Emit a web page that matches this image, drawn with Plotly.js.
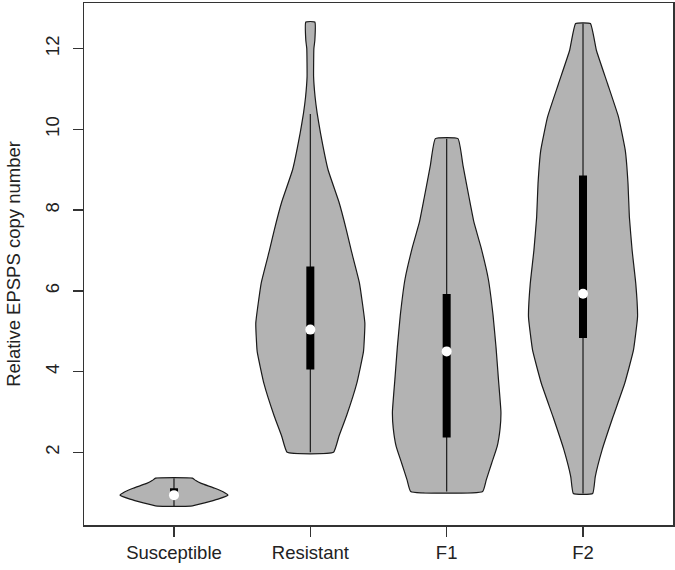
<!DOCTYPE html>
<html><head><meta charset="utf-8">
<script src="https://cdn.plot.ly/plotly-3.0.1.min.js"></script>
<style>html,body{margin:0;padding:0;background:#fff}</style>
</head><body><div id="chart" style="width:675px;height:570px"></div>
<script>
// Categories (x positions 1..4)
const categories = ["Susceptible", "Resistant", "F1", "F2"];

// Violin outlines: y levels and half-widths (density, max 0.4)
const susLevels = [0.67, 0.75, 0.84, 0.94, 1.00, 1.11, 1.23, 1.30, 1.36];
const susHalf   = [0.122, 0.225, 0.323, 0.396, 0.372, 0.30, 0.20, 0.16, 0.135];

const resLevels = [2.0, 2.4, 2.9, 3.7, 4.5, 5.2, 6.2, 7.0, 7.5, 8.2, 9.0, 9.9, 10.4, 10.8, 11.3, 12.0, 12.2, 12.66];
const resHalf   = [0.17, 0.21, 0.265, 0.34, 0.39, 0.40, 0.36, 0.30, 0.265, 0.21, 0.13, 0.075, 0.05, 0.035, 0.024, 0.026, 0.033, 0.033];

const f1Levels = [1.03, 1.31, 1.73, 2.14, 2.6, 3.0, 3.8, 4.6, 5.4, 6.3, 7.1, 7.7, 8.3, 9.1, 9.77];
const f1Half   = [0.264, 0.29, 0.33, 0.37, 0.392, 0.398, 0.38, 0.362, 0.34, 0.305, 0.25, 0.2, 0.165, 0.12, 0.083];

const f2Levels = [0.98, 1.40, 2.06, 2.88, 3.71, 4.53, 5.36, 6.18, 7.01, 7.83, 8.66, 9.48, 10.31, 11.13, 11.96, 12.62];
const f2Half   = [0.071, 0.09, 0.14, 0.22, 0.306, 0.37, 0.40, 0.387, 0.36, 0.34, 0.33, 0.31, 0.26, 0.18, 0.098, 0.054];

// Box-plot summaries
const whiskerLow  = [0.67, 2.0, 1.03, 0.98];
const whiskerHigh = [1.36, 10.38, 9.77, 12.62];
const q1      = [0.92, 4.05, 2.37, 4.83];
const q3      = [1.11, 6.60, 5.92, 8.86];
const medians = [0.94, 5.04, 4.50, 5.93];

// Axis ticks
const yTicks = [2, 4, 6, 8, 10, 12];
const yTickLabels = ["2", "4", "6", "8", "10", "12"];

const levelsList = [susLevels, resLevels, f1Levels, f2Levels];
const halfList = [susHalf, resHalf, f1Half, f2Half];
const pos = categories.map((c, i) => i + 1);

const traces = [];
levelsList.forEach((lv, i) => {
  const at = pos[i];
  const hw = halfList[i];
  const xs = [], ys = [];
  for (let k = 0; k < lv.length; k++) { xs.push(at - hw[k]); ys.push(lv[k]); }
  for (let k = lv.length - 1; k >= 0; k--) { xs.push(at + hw[k]); ys.push(lv[k]); }
  xs.push(xs[0]); ys.push(ys[0]);
  traces.push({
    type: "scatter", mode: "lines", x: xs, y: ys, fill: "toself",
    fillcolor: "#b3b3b3", line: {color: "#1a1a1a", width: 1.2, shape: "spline", smoothing: 0.35},
    hoverinfo: "skip", name: categories[i]
  });
});

// whisker lines
const wx = [], wy = [];
pos.forEach((p, i) => { wx.push(p, p, null); wy.push(whiskerLow[i], whiskerHigh[i], null); });
traces.push({type: "scatter", mode: "lines", x: wx, y: wy, line: {color: "#1a1a1a", width: 1.2}, hoverinfo: "skip"});

// boxes (thick line from q1 to q3)
const bx = [], by = [];
pos.forEach((p, i) => { bx.push(p, p, null); by.push(q1[i], q3[i], null); });
traces.push({type: "scatter", mode: "lines", x: bx, y: by, line: {color: "#000", width: 8}, hoverinfo: "skip"});

// medians
traces.push({
  type: "scatter", mode: "markers", x: pos, y: medians,
  marker: {color: "#fff", size: 10, line: {width: 0}}, hoverinfo: "skip"
});

const font = {family: "Liberation Sans, Arial, sans-serif", size: 18.5, color: "#222"};

const layout = {
  width: 675, height: 570,
  margin: {l: 84, r: 2, t: 3, b: 45},
  showlegend: false,
  paper_bgcolor: "#fff", plot_bgcolor: "#fff",
  font: font,
  xaxis: {
    range: [0.34, 4.66], tickmode: "array", tickvals: pos, ticktext: categories,
    ticks: "outside", ticklen: 10, tickwidth: 1.3, tickcolor: "#333",
    showline: true, mirror: true, linecolor: "#333", linewidth: 1.5,
    showgrid: false, zeroline: false, tickfont: font, fixedrange: true
  },
  yaxis: {
    range: [0.2, 13.13], tickmode: "array", tickvals: yTicks, ticktext: yTickLabels,
    ticks: "outside", ticklen: 10, tickwidth: 1.3, tickcolor: "#333", tickangle: -90,
    ticklabelstandoff: 6,
    showline: true, mirror: true, linecolor: "#333", linewidth: 1.5,
    showgrid: false, zeroline: false, tickfont: font, fixedrange: true,
    title: {text: "Relative EPSPS copy number", font: font, standoff: 16}
  }
};

Plotly.newPlot("chart", traces, layout, {staticPlot: true, displayModeBar: false});
</script>
</body></html>
